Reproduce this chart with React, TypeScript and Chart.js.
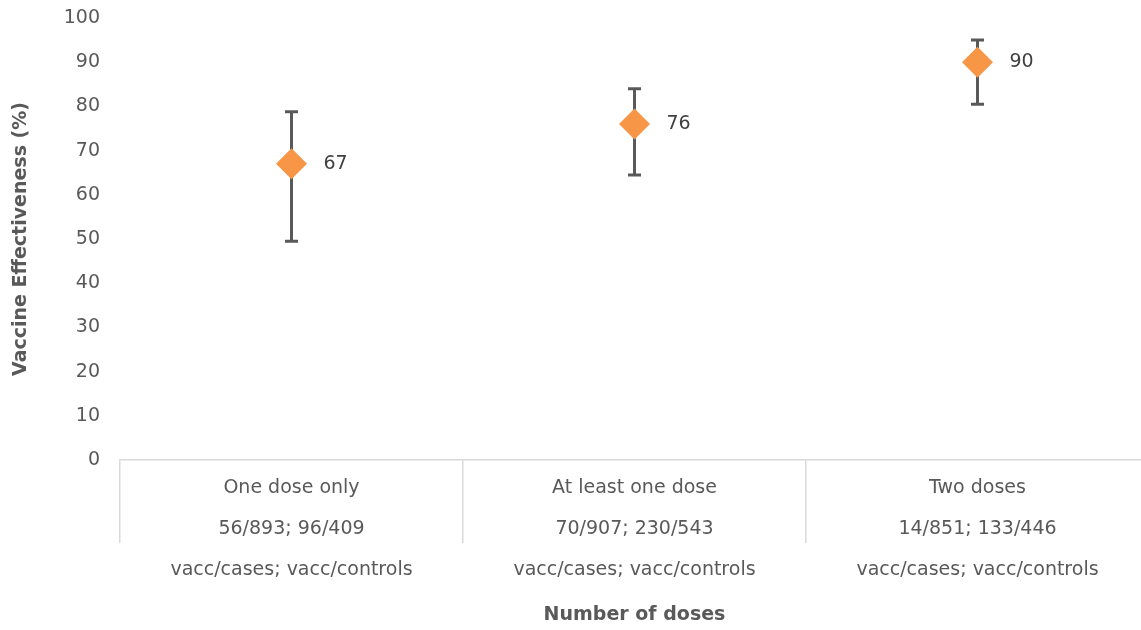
import React, { useEffect, useRef } from "react";
import { Chart, registerables } from "chart.js";

Chart.register(...registerables);

const categories: string[][] = [
  ["One dose only", "56/893; 96/409", "vacc/cases; vacc/controls"],
  ["At least one dose", "70/907; 230/543", "vacc/cases; vacc/controls"],
  ["Two doses", "14/851; 133/446", "vacc/cases; vacc/controls"],
];
const effectiveness: number[] = [67, 76, 90];
const lowerCI: number[] = [49.5, 64.5, 80.5];
const upperCI: number[] = [78.8, 84, 95];
const yTicks: number[] = [0, 10, 20, 30, 40, 50, 60, 70, 80, 90, 100];

const FONT = "'DejaVu Sans', Verdana, sans-serif";

const errorBarPlugin = {
  id: "errorBars",
  beforeDatasetsDraw(chart: any) {
    const ctx = chart.ctx;
    const x = chart.scales.x;
    const y = chart.scales.y;
    ctx.save();
    ctx.strokeStyle = "#595959";
    ctx.lineWidth = 3;
    for (let i = 0; i < effectiveness.length; i++) {
      const px = x.getPixelForValue(i);
      const top = y.getPixelForValue(upperCI[i]);
      const bot = y.getPixelForValue(lowerCI[i]);
      ctx.beginPath();
      ctx.moveTo(px, top);
      ctx.lineTo(px, bot);
      ctx.moveTo(px - 6.5, top);
      ctx.lineTo(px + 6.5, top);
      ctx.moveTo(px - 6.5, bot);
      ctx.lineTo(px + 6.5, bot);
      ctx.stroke();
    }
    ctx.restore();
  },
};

const dataLabelPlugin = {
  id: "dataLabels",
  afterDatasetsDraw(chart: any) {
    const ctx = chart.ctx;
    const meta = chart.getDatasetMeta(0);
    ctx.save();
    ctx.font = `19px ${FONT}`;
    ctx.fillStyle = "#404040";
    ctx.textAlign = "left";
    ctx.textBaseline = "middle";
    meta.data.forEach((pt: any, i: number) => {
      ctx.fillText(String(effectiveness[i]), pt.x + 32, pt.y);
    });
    ctx.restore();
  },
};

export default function App() {
  const ref = useRef<HTMLCanvasElement | null>(null);
  useEffect(() => {
    document.body.style.margin = "0";
    document.body.style.overflow = "hidden";
    if (!ref.current) return;
    const chart = new Chart(ref.current, {
      type: "line",
      data: {
        labels: categories,
        datasets: [
          {
            data: effectiveness,
            showLine: false,
            pointStyle: "rectRot",
            pointRadius: 15.5,
            pointBackgroundColor: "#F79646",
            pointBorderWidth: 0,
            pointBorderColor: "#F79646",
          },
        ],
      },
      options: {
        animation: false,
        responsive: false,
        maintainAspectRatio: false,
        layout: { autoPadding: false, padding: { left: 0, right: 0, top: 18, bottom: 0 } },
        plugins: { legend: { display: false }, tooltip: { enabled: false } },
        scales: {
          x: {
            type: "category",
            offset: true,
            afterFit: (s: any) => {
              s.height = 170;
              s.paddingLeft = 0;
              s.paddingRight = 0;
            },
            grid: {
              offset: true,
              drawOnChartArea: false,
              drawTicks: true,
              tickLength: 83,
              color: "#d9d9d9",
              lineWidth: 1.5,
            },
            border: { display: true, color: "#d9d9d9", width: 1.5 },
            ticks: {
              padding: -75,
              maxRotation: 0,
              autoSkip: false,
              color: "#595959",
              font: { family: FONT, size: 19, lineHeight: 2.15 },
            },
            title: {
              display: true,
              text: "Number of doses",
              color: "#595959",
              font: { family: FONT, size: 19, weight: "bold", lineHeight: 1.2 },
              padding: { top: 0, bottom: 4 },
            },
          },
          y: {
            min: 0,
            max: 100,
            afterFit: (s: any) => {
              s.width = 120;
              s.paddingTop = 0;
              s.paddingBottom = 0;
            },
            afterBuildTicks: (s: any) => {
              s.ticks = yTicks.map((v) => ({ value: v }));
            },
            grid: { display: false },
            border: { display: false },
            ticks: {
              padding: 12,
              color: "#595959",
              font: { family: FONT, size: 19 },
            },
            title: {
              display: true,
              text: "Vaccine Effectiveness (%)",
              color: "#595959",
              font: { family: FONT, size: 19, weight: "bold", lineHeight: 1.2 },
              padding: { top: 10, bottom: 0 },
            },
          },
        },
      },
      plugins: [errorBarPlugin, dataLabelPlugin],
    });
    return () => chart.destroy();
  }, []);
  return (
    <div style={{ width: 1149, height: 630 }}>
      <canvas ref={ref} width={1149} height={630} style={{ display: "block" }} />
    </div>
  );
}
